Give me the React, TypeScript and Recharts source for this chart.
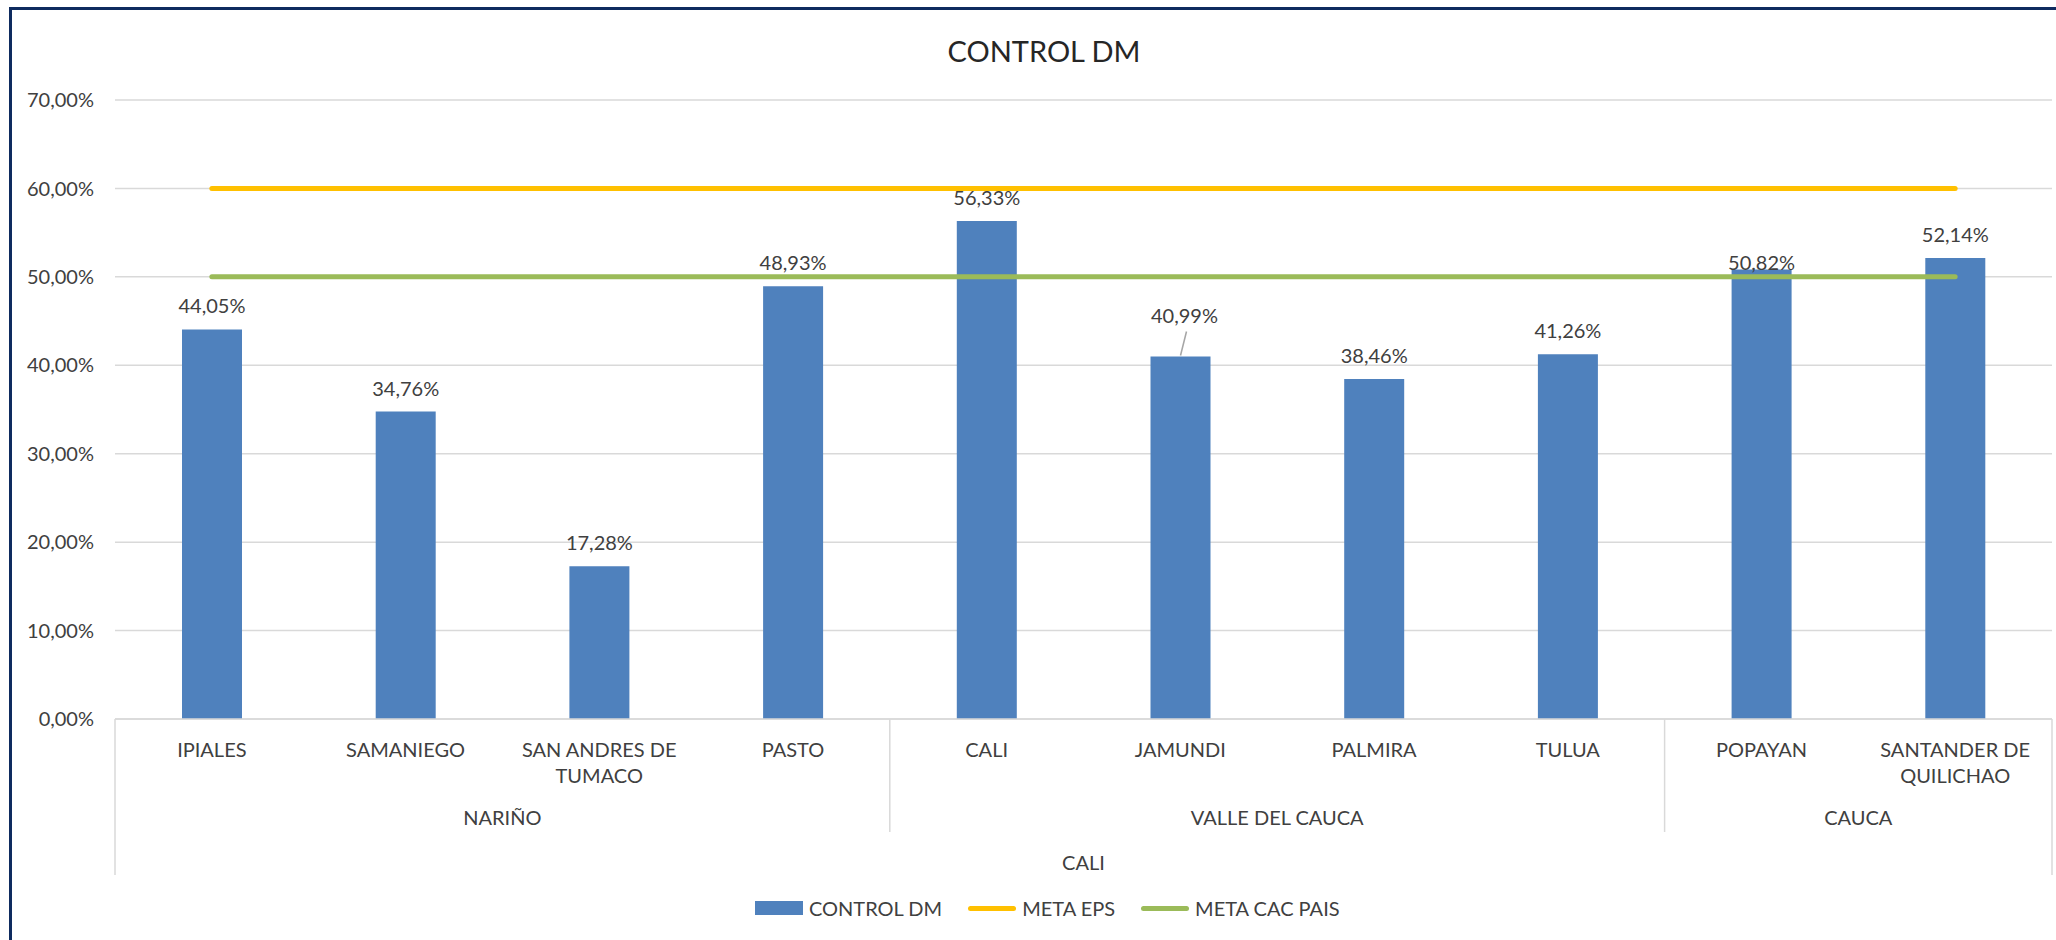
import { ComposedChart, Bar, Line, XAxis, YAxis, CartesianGrid, Legend, LabelList } from 'recharts';

const cities = [
  'IPIALES',
  'SAMANIEGO',
  'SAN ANDRES DE TUMACO',
  'PASTO',
  'CALI',
  'JAMUNDI',
  'PALMIRA',
  'TULUA',
  'POPAYAN',
  'SANTANDER DE QUILICHAO',
];
const departments = [
  'NARIÑO',
  'NARIÑO',
  'NARIÑO',
  'NARIÑO',
  'VALLE DEL CAUCA',
  'VALLE DEL CAUCA',
  'VALLE DEL CAUCA',
  'VALLE DEL CAUCA',
  'CAUCA',
  'CAUCA',
];
const regional = 'CALI';
const seriesNames = ['CONTROL DM', 'META EPS', 'META CAC PAIS'];
const controlDm = [44.05, 34.76, 17.28, 48.93, 56.33, 40.99, 38.46, 41.26, 50.82, 52.14];
const metaEps = [60, 60, 60, 60, 60, 60, 60, 60, 60, 60];
const metaCacPais = [50, 50, 50, 50, 50, 50, 50, 50, 50, 50];
const yTicks = [0, 10, 20, 30, 40, 50, 60, 70];

const W = 2056;
const H = 940;
const margin = { top: 100, right: 4, bottom: 31, left: 10 };
const Y_W = 105;
const X_H = 160;
const BAND = (W - margin.left - Y_W - margin.right) / cities.length;

const FONT = 'Lato, "Open Sans", sans-serif';
const INK = '#404040';
const RULE = '#d9d9d9';

const data = cities.map((name, i) => ({
  name,
  control: controlDm[i],
  eps: metaEps[i],
  cac: metaCacPais[i],
}));

const pct = (v: number) => v.toFixed(2).replace('.', ',') + '%';

// excel-style wrap of long category names
const wrap = (s: string, max = 14) => {
  const out: string[] = [];
  let cur = '';
  s.split(' ').forEach((w) => {
    if (cur && (cur + ' ' + w).length > max) {
      out.push(cur);
      cur = w;
    } else {
      cur = cur ? cur + ' ' + w : w;
    }
  });
  if (cur) out.push(cur);
  return out;
};

const txt = { fontFamily: FONT, fontSize: 20, fill: INK };

const CityTick = (props: any) => {
  const { x, y, payload } = props;
  const i = cities.indexOf(payload.value);
  const half = BAND / 2;
  const dept = departments[i];
  const first = i === 0 || departments[i - 1] !== dept;
  const last = i === cities.length - 1;
  const size = departments.filter((d) => d === dept).length;
  return (
    <g>
      {wrap(cities[i]).map((t, k) => (
        <text key={k} x={x} y={y + 30 + k * 26} textAnchor='middle' dominantBaseline='central' {...txt}>
          {t}
        </text>
      ))}
      {first && (
        <text x={x - half + size * half} y={y + 98} textAnchor='middle' dominantBaseline='central' {...txt}>
          {dept}
        </text>
      )}
      {first && <line x1={x - half} x2={x - half} y1={y} y2={y + (i === 0 ? 156 : 113)} stroke={RULE} strokeWidth={1.5} />}
      {last && <line x1={x + half} x2={x + half} y1={y} y2={y + 156} stroke={RULE} strokeWidth={1.5} />}
      {i === 0 && (
        <text x={x - half + (BAND * cities.length) / 2} y={y + 143} textAnchor='middle' dominantBaseline='central' {...txt}>
          {regional}
        </text>
      )}
    </g>
  );
};

const BarLabel = (props: any) => {
  const { x, y, width, value } = props;
  const i = controlDm.indexOf(value);
  const cx = x + width / 2;
  let lift = 24;
  let dx = 0;
  if (i === 5) {
    lift = 42;
    dx = 4;
  }
  if (i === 8) lift = 8;
  return (
    <g>
      {i === 5 && <line x1={cx + 6} y1={y - 25} x2={cx} y2={y - 1} stroke='#a6a6a6' strokeWidth={1.5} />}
      <text x={cx + dx} y={y - lift} textAnchor='middle' dominantBaseline='central' {...txt}>
        {pct(value)}
      </text>
    </g>
  );
};

const LegendBox = (props: any) => {
  const items = [...(props.payload || [])].sort(
    (a: any, b: any) => seriesNames.indexOf(a.value) - seriesNames.indexOf(b.value)
  );
  return (
    <div style={{ display: 'flex', alignItems: 'center', height: 30, gap: 26, fontFamily: FONT, fontSize: 20, color: INK }}>
      {items.map((it: any) => (
        <div key={it.value} style={{ display: 'flex', alignItems: 'center', gap: 6 }}>
          {it.type === 'rect' ? (
            <div style={{ width: 48, height: 14, background: it.color }} />
          ) : (
            <div style={{ width: 48, height: 5, borderRadius: 3, background: it.color }} />
          )}
          <span>{it.value}</span>
        </div>
      ))}
    </div>
  );
};

const App = () => {
  return (
    <div style={{ position: 'absolute', left: 0, top: 0, width: W, height: H, overflow: 'hidden', background: '#fff' }}>
      <div
        style={{
          position: 'absolute',
          left: 9,
          top: 7,
          width: W + 100,
          height: H + 100,
          borderTop: '3px solid #0e2b5f',
          borderLeft: '3px solid #0e2b5f',
        }}
      />
      <div
        style={{
          position: 'absolute',
          left: 1044,
          top: 36,
          transform: 'translateX(-50%)',
          fontFamily: FONT,
          fontSize: 29,
          lineHeight: '29px',
          color: '#262626',
          whiteSpace: 'nowrap',
        }}
      >
        CONTROL DM
      </div>
      <div style={{ position: 'absolute', left: 0, top: 0 }}>
        <ComposedChart width={W} height={H} data={data} margin={margin} barCategoryGap={0}>
          <CartesianGrid stroke={RULE} strokeWidth={1.5} vertical={false} />
          <XAxis
            dataKey='name'
            height={X_H}
            interval={0}
            axisLine={{ stroke: RULE, strokeWidth: 1.5 }}
            tickLine={false}
            tickSize={0}
            tickMargin={0}
            tick={<CityTick />}
          />
          <YAxis
            width={Y_W}
            domain={[0, 70]}
            ticks={yTicks}
            interval={0}
            axisLine={false}
            tickLine={false}
            tickSize={0}
            tickMargin={21}
            tickFormatter={pct}
            tick={{ ...txt }}
          />
          <Bar dataKey='control' name={seriesNames[0]} fill='#4f81bd' barSize={60} isAnimationActive={false} legendType='rect'>
            <LabelList dataKey='control' content={<BarLabel />} />
          </Bar>
          <Line
            dataKey='eps'
            name={seriesNames[1]}
            stroke='#ffc000'
            strokeWidth={5}
            strokeLinecap='round'
            dot={false}
            activeDot={false}
            isAnimationActive={false}
            legendType='line'
          />
          <Line
            dataKey='cac'
            name={seriesNames[2]}
            stroke='#9bbb59'
            strokeWidth={5}
            strokeLinecap='round'
            dot={false}
            activeDot={false}
            isAnimationActive={false}
            legendType='line'
          />
          <Legend
            content={<LegendBox />}
            wrapperStyle={{ position: 'absolute', left: 755, top: 893, width: 700, height: 30 }}
          />
        </ComposedChart>
      </div>
    </div>
  );
};

export default App;
